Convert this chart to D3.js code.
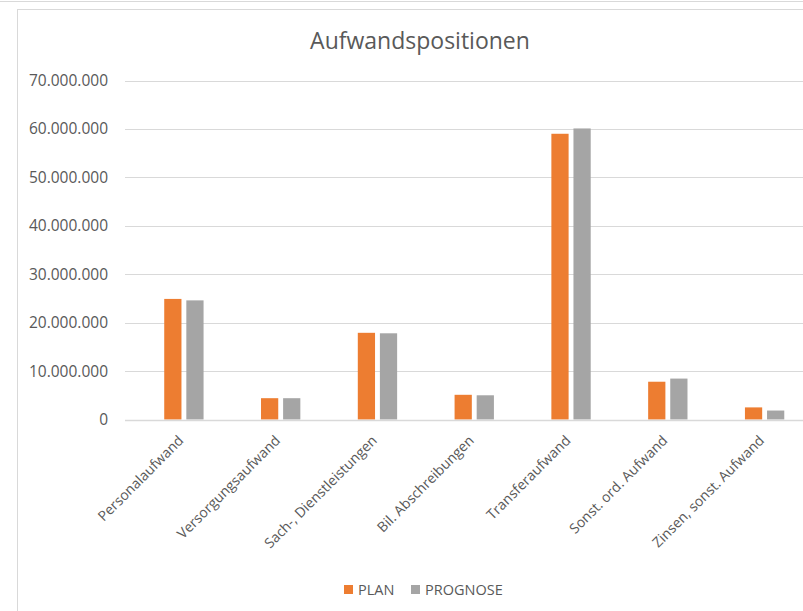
<!DOCTYPE html>
<html><head><meta charset="utf-8">
<script src="https://cdn.jsdelivr.net/npm/d3@7"></script>
<style>body{margin:0;background:#fff;} svg{display:block;font-family:"Open Sans",sans-serif;}</style>
</head><body>
<script>
const categories = ["Personalaufwand","Versorgungsaufwand","Sach-, Dienstleistungen","Bil. Abschreibungen","Transferaufwand","Sonst. ord. Aufwand","Zinsen, sonst. Aufwand"];
const seriesNames = ["PLAN","PROGNOSE"];
const plan = [24900000, 4400000, 17900000, 5100000, 59000000, 7800000, 2500000];
const prognose = [24600000, 4400000, 17800000, 5000000, 60100000, 8450000, 1850000];
const yTicks = [0,10000000,20000000,30000000,40000000,50000000,60000000,70000000];
const colors = ["#ED7D31","#A5A5A5"];

const W = 803, H = 611;
const svg = d3.select("body").append("svg").attr("width",W).attr("height",H);

// frame lines
svg.append("line").attr("x1",0).attr("x2",W).attr("y1",1.5).attr("y2",1.5).attr("stroke","#d9d9d9").attr("stroke-width",1);
svg.append("rect").attr("x",17.5).attr("y",9.5).attr("width",W).attr("height",H).attr("fill","#fff").attr("stroke","#d9d9d9");

const y = d3.scaleLinear().domain([0,70000000]).range([419.5,80.5]);
const x = d3.scaleBand().domain(categories).range([135.5,813]).paddingInner(0).paddingOuter(0);
const xs = d3.scaleBand().domain(seriesNames).range([0,x.bandwidth()]).paddingInner(0.22).paddingOuter(1.3);

const fmt = v => d3.format(",")(v).replace(/,/g,".");

// gridlines
svg.append("g").selectAll("line").data(yTicks.slice(1)).join("line")
  .attr("x1",125).attr("x2",W).attr("y1",d=>Math.round(y(d))+0.5).attr("y2",d=>Math.round(y(d))+0.5)
  .attr("stroke","#d9d9d9").attr("stroke-width",1);

// y labels
const yAxis = d3.axisLeft(y).tickValues(yTicks).tickFormat(fmt).tickSize(0).tickPadding(0);
const ga = svg.append("g").attr("transform","translate(108,0)").call(yAxis);
ga.select(".domain").remove();
ga.selectAll("text").attr("fill","#595959").attr("font-size",15.5).attr("font-family","Open Sans");

// bars
const data = categories.map((c,i)=>({c, vals:[{s:seriesNames[0],v:plan[i]},{s:seriesNames[1],v:prognose[i]}]}));
const g = svg.append("g");
g.selectAll("g").data(data).join("g").attr("transform",d=>`translate(${x(d.c)},0)`)
  .selectAll("rect").data(d=>d.vals).join("rect")
  .attr("x",d=>xs(d.s)).attr("width",xs.bandwidth())
  .attr("y",d=>y(d.v)).attr("height",d=>y(0)-y(d.v))
  .attr("fill",(d,i)=>colors[i]);

// x axis line
svg.append("line").attr("x1",125).attr("x2",W).attr("y1",420.5).attr("y2",420.5).attr("stroke","#d9d9d9").attr("stroke-width",1.5);

// x labels
const xAxis = d3.axisBottom(x).tickSize(0).tickPadding(0);
const gx = svg.append("g").attr("transform","translate(0,420)").call(xAxis);
gx.select(".domain").remove();
gx.selectAll("text").attr("fill","#595959").attr("font-size",14).attr("font-family","Open Sans")
  .attr("text-anchor","end").attr("y",0).attr("dy","0.35em")
  .attr("transform","translate(-3,18) rotate(-45)");

// title
svg.append("text").attr("x",420).attr("y",49).attr("text-anchor","middle")
  .attr("fill","#595959").attr("font-size",23).text("Aufwandspositionen");

// legend
const lg = svg.append("g").attr("transform","translate(344,585)");
const items = lg.selectAll("g").data(seriesNames).join("g").attr("transform",(d,i)=>`translate(${i*67},0)`);
items.append("rect").attr("width",9).attr("height",9).attr("fill",(d,i)=>colors[i]);
items.append("text").attr("x",14).attr("y",10).attr("fill","#595959").attr("font-size",14.5).text(d=>d);
</script>
</body></html>
